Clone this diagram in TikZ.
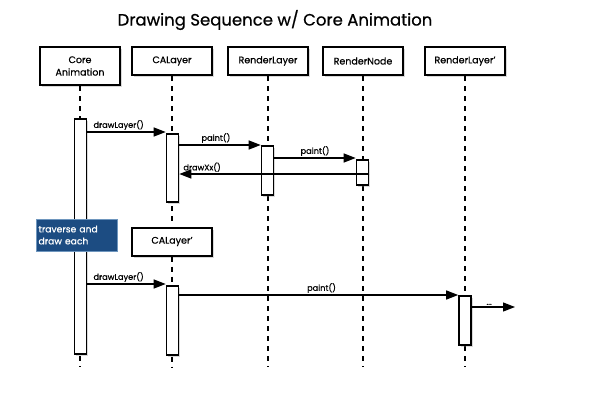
\documentclass[tikz,border=0pt]{standalone}
\usepackage{fontspec}
\setmainfont{Poppins}[FakeBold=0.6]
\usetikzlibrary{arrows.meta,shadows}
\definecolor{noteblue}{RGB}{28,76,130}
\definecolor{noteedge}{RGB}{110,150,190}
\tikzset{
  objbox/.style={draw=black, line width=2pt, fill=white, minimum width=80pt, minimum height=28pt,
    inner sep=1pt, align=center, font=\fontsize{9.5}{12.5}\selectfont,
    drop shadow={shadow xshift=2pt, shadow yshift=-2pt, opacity=0.3}},
  actbar/.style={draw=black, line width=1.6pt, fill=white, minimum width=12pt, inner sep=0pt,
    anchor=north, drop shadow={shadow xshift=1.8pt, shadow yshift=-1.8pt, opacity=0.3}},
  lifeline/.style={line width=1.4pt, dash pattern=on 5pt off 5pt},
  msg/.style={line width=1.2pt, -{Triangle[length=12pt,width=9pt]}},
  msglabel/.style={font=\fontsize{8.2}{9}\selectfont, inner sep=1.5pt},
  notebox/.style={fill=noteblue, draw=noteedge, line width=0.6pt, text=white, align=left,
    font=\fontsize{9.2}{12}\selectfont, minimum width=81pt, minimum height=32pt, text width=76pt, inner sep=2.5pt}
}
\begin{document}
\begin{tikzpicture}[x=1pt,y=-1pt]
\useasboundingbox (0,0) rectangle (604,402);
% title
\node[font=\fontsize{16.5}{19}\selectfont] (title) at (275,20) {Drawing Sequence w/ Core Animation};
% objects
\node[objbox, minimum height=38pt] (ca) at (80,66) {Core\\Animation};
\node[objbox] (cl) at (172,61) {CALayer};
\node[objbox] (rl) at (268,61) {RenderLayer};
\node[objbox] (rn) at (363,61) {RenderNode};
\node[objbox] (rlp) at (465,61) {RenderLayer'};
\node[objbox] (clp) at (172,241.5) {CALayer'};
% lifeline ends
\coordinate (caend) at (80,367);
\coordinate (clmid) at (172,222);
\coordinate (clend) at (172,367);
\coordinate (rlend) at (268,367);
\coordinate (rnend) at (363,367);
\coordinate (rlpend) at (465,367);
\draw[lifeline] (ca.south) -- (caend);
\draw[lifeline] (cl.south) -- (clmid);
\draw[lifeline] (clp.south) -- (clend);
\draw[lifeline] (rl.south) -- (rlend);
\draw[lifeline] (rn.south) -- (rnend);
\draw[lifeline] (rlp.south) -- (rlpend);
% activation bars
\node[actbar, minimum height=235pt] (cabar) at (80.5,118) {};
\node[actbar, minimum height=68pt] (clbar) at (172.5,133) {};
\node[actbar, minimum height=49pt] (rlbar) at (267.5,145) {};
\node[actbar, minimum height=25pt] (rnbar) at (362.5,159) {};
\node[actbar, minimum height=69pt] (clpbar) at (172.5,285) {};
\node[actbar, minimum height=49pt] (rlpbar) at (465,295) {};
\coordinate (dots) at (515,307);
% messages
\draw[msg] (cabar.east |- 0,132) -- node[msglabel, above, pos=0.4] {drawLayer()} (clbar.west |- 0,132);
\draw[msg] (clbar.east |- 0,145) -- node[msglabel, above, pos=0.45] {paint()} (rlbar.west |- 0,145);
\draw[msg] (rlbar.east |- 0,158) -- node[msglabel, above, pos=0.5] {paint()} (rnbar.west |- 0,158);
\draw[msg] (rnbar.east |- 0,174) -- node[msglabel, above, pos=0.88] {drawXx()} (clbar.east |- 0,174);
\draw[msg] (cabar.east |- 0,284) -- node[msglabel, above, pos=0.4] {drawLayer()} (clpbar.west |- 0,284);
\draw[msg] (clpbar.east |- 0,295) -- node[msglabel, above, pos=0.51] {paint()} (rlpbar.west |- 0,295);
\draw[msg] (rlpbar.east |- dots) -- node[msglabel, above, pos=0.4] {...} (dots);
% note
\node[notebox] (note) at (76.5,235) {traverse and\\draw each};
\end{tikzpicture}
\end{document}
